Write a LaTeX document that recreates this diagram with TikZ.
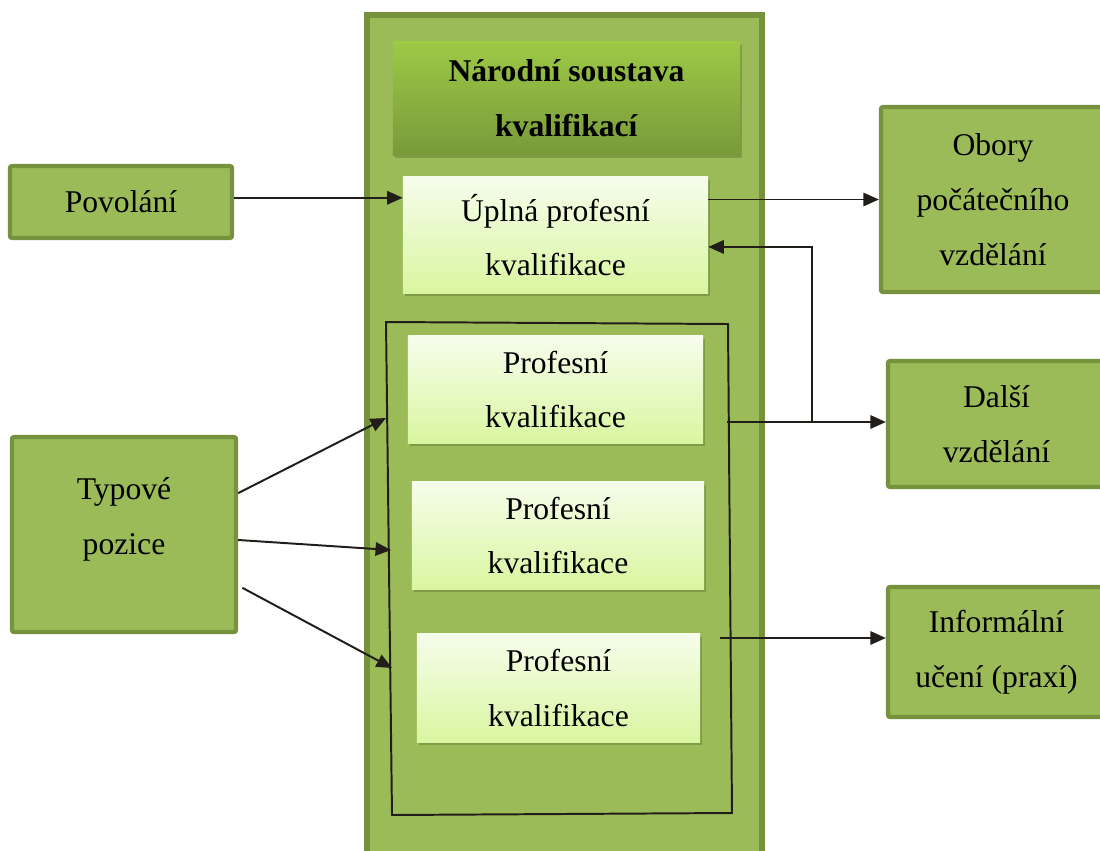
\documentclass[tikz,border=0pt]{standalone}
\usepackage{fontspec}
\setmainfont{Liberation Serif}
\usetikzlibrary{arrows.meta,shadows}

\definecolor{olivefill}{HTML}{9BBB59}
\definecolor{oliveedge}{HTML}{76923C}
\definecolor{titletop}{HTML}{9DC945}
\definecolor{titlebot}{HTML}{789A3B}
\definecolor{paletop}{HTML}{F6FDEC}
\definecolor{palebot}{HTML}{D9F6A0}
\definecolor{inkline}{HTML}{211E1A}

\begin{document}
\begin{tikzpicture}[x=0.025cm, y=-0.025cm,
        every node/.style={font=\fontsize{22.5}{39}\selectfont, align=center, text=black},
        sidebox/.style={draw=oliveedge, fill=olivefill, line width=3pt, rounded corners=1.5pt},
        qualbox/.style={top color=paletop, bottom color=palebot,
            drop shadow={shadow xshift=1.2pt, shadow yshift=-1.8pt, opacity=0.45, fill=oliveedge!80!black}},
        titlebox/.style={top color=titletop, bottom color=titlebot,
            drop shadow={shadow xshift=1.2pt, shadow yshift=-1.8pt, opacity=0.45, fill=oliveedge!80!black}},
        arr/.style={draw=inkline, line width=1.4pt, -{Triangle[length=11pt,width=9.5pt]}}]

            \useasboundingbox (0,0) rectangle (1100,850);

            % Narodni soustava kvalifikaci (column)
            \draw[draw=oliveedge, fill=olivefill, line width=4.2pt] (367,15) rectangle (762,862);
            \node[titlebox, minimum width=8.675cm, minimum height=2.825cm] (nsk) at (566.5,98.5)
                {\textbf{Národní soustava}\\\textbf{kvalifikací}};

            % Uplna profesni kvalifikace
            \node[qualbox, minimum width=7.625cm, minimum height=2.9cm] (upl) at (555.5,235) {Úplná profesní\\kvalifikace};

            % group of profesni kvalifikace (hand drawn frame)
            \coordinate (gTL) at (386,322);
            \coordinate (gTR) at (728,324);
            \coordinate (gBR) at (732,813);
            \coordinate (gBL) at (392,815);
            \draw[draw=inkline, line width=1.4pt] (gTL) -- (gTR) -- (gBR) -- (gBL) -- cycle;

            \node[qualbox, minimum width=7.375cm, minimum height=2.675cm] (pk1) at (555.5,389.5) {Profesní\\kvalifikace};
            \node[qualbox, minimum width=7.3cm, minimum height=2.675cm] (pk2) at (558,535.5) {Profesní\\kvalifikace};
            \node[qualbox, minimum width=7.075cm, minimum height=2.7cm] (pk3) at (558.5,688) {Profesní\\kvalifikace};

            % Inputs
            \node[sidebox, minimum width=5.55cm, minimum height=1.8cm] (pov) at (121,202) {Povolání};
            \node[sidebox, minimum width=5.6cm, minimum height=4.875cm] (typ) at (124,534.5) {};
            \node (typlbl) at ([yshift=10.6pt]typ.center) {Typové\\pozice};

            % Outputs
            \node[sidebox, minimum width=5.6cm, minimum height=4.625cm] (obo) at (993,199.5) {Obory\\počátečního\\vzdělání};
            \node[sidebox, minimum width=5.425cm, minimum height=3.15cm] (dal) at (996.5,424) {Další\\vzdělání};
            \node[sidebox, minimum width=5.425cm, minimum height=3.25cm] (inf) at (996.5,652) {Informální\\učení (praxí)};

            % Arrow ends on the frame
            \coordinate (inA) at (386,418);
            \coordinate (inB) at (391,550);
            \coordinate (inC) at (392,668);
            \coordinate (outA) at (727,422);
            \coordinate (outB) at (720,638);
            \coordinate (j) at (812,422);

            % Arrows
            \draw[arr] ([yshift=3pt]pov.east) -- ([yshift=3pt]pov.east -| upl.west);
            \draw[arr] (obo.west -| upl.east) -- (obo.west);
            \draw[arr] (j) |- ([yshift=-8.5pt]upl.east);

            \draw[arr] ([yshift=29.4pt]typ.east) -- (inA);
            \draw[arr] ([yshift=-3.9pt]typ.east) -- (inB);
            \draw[arr] ([xshift=3pt,yshift=-37.9pt]typ.east) -- (inC);

            \draw[arr] (outA) -- (outA -| dal.west);
            \draw[arr] (outB) -- (outB -| inf.west);
\end{tikzpicture}
\end{document}
